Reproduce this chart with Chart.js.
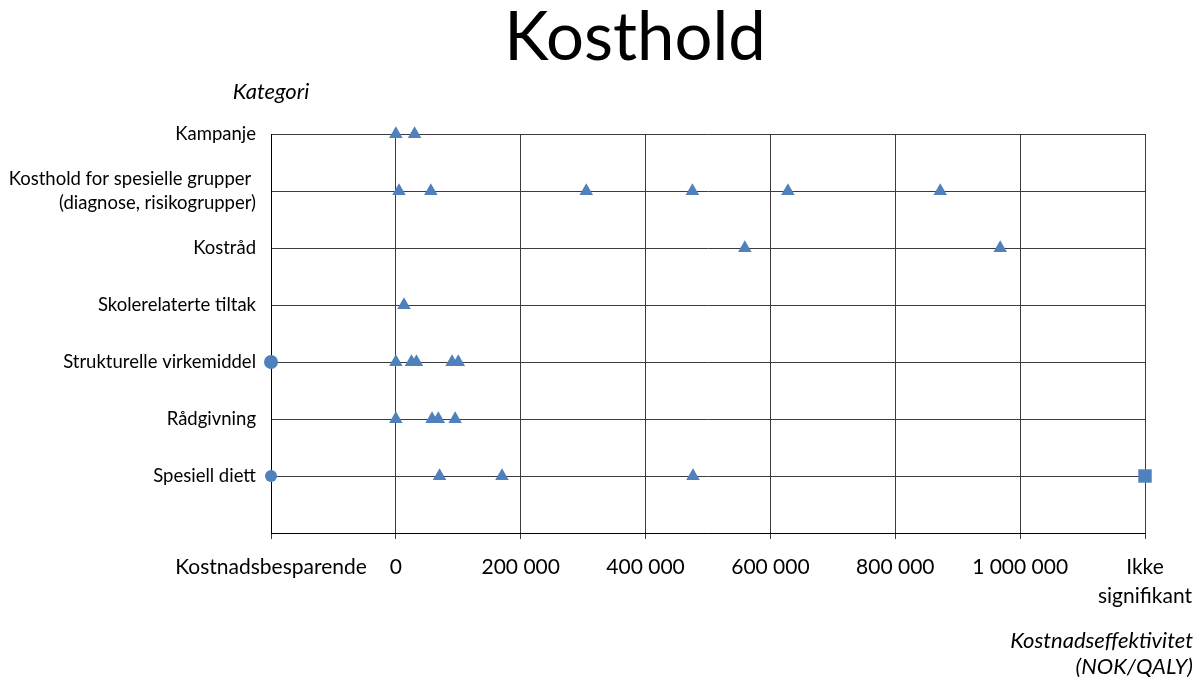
<!DOCTYPE html>
<html>
<head>
<meta charset="utf-8">
<script src="https://cdn.jsdelivr.net/npm/chart.js@4.4.1/dist/chart.umd.min.js"></script>
<style>
  html, body { margin: 0; padding: 0; background: #ffffff; }
  #wrap { width: 1201px; height: 679px; position: relative; }
</style>
</head>
<body>
<div id="wrap"><canvas id="c" width="1201" height="679"></canvas></div>
<script>
// Categories, bottom to top (y = 1 .. 7)
const categories = [
  'Spesiell diett',
  'Rådgivning',
  'Strukturelle virkemiddel',
  'Skolerelaterte tiltak',
  'Kostråd',
  ['Kosthold for spesielle grupper ', '(diagnose, risikogrupper)'],
  'Kampanje'
];

// Cost per QALY (NOK) for each study, per category
const spesiellDiett    = [70000, 170000, 476000];
const raadgivning      = [0, 58000, 68000, 95000];
const strukturelle     = [0, 25000, 33000, 90000, 100000];
const skolerelaterte   = [13000];
const kostraad         = [559000, 968000];
const spesielleGrupper = [5000, 56000, 305000, 475000, 628000, 872000];
const kampanje         = [0, 30000];

// Cost-saving studies and non-significant results, by category name
const kostnadsbesparende = ['Strukturelle virkemiddel', 'Spesiell diett'];
const ikkeSignifikant    = ['Spesiell diett'];

// X axis: special end positions plus regular ticks
const COST_SAVING_X = -200000;
const NOT_SIGNIFICANT_X = 1200000;
const xTickStep = 200000;
const xEndLabels = {
  cost: 'Kostnadsbesparende',
  ns: ['Ikke', 'signifikant']
};

const valuesByCategory = [spesiellDiett, raadgivning, strukturelle, skolerelaterte, kostraad, spesielleGrupper, kampanje];

function catIndex(name) {
  return categories.findIndex(c => (Array.isArray(c) ? c.join('') : c) === name) + 1;
}

const studyPoints = [];
valuesByCategory.forEach((vals, i) => {
  vals.forEach(v => studyPoints.push({ x: v, y: i + 1 }));
});
const costSavingPoints = kostnadsbesparende.map(n => ({ x: COST_SAVING_X, y: catIndex(n) }));
const notSignificantPoints = ikkeSignifikant.map(n => ({ x: NOT_SIGNIFICANT_X, y: catIndex(n) }));

const BLUE = '#4f81bd';
const GRID = '#3c3c3c';
const FONT = 'Lato, "Open Sans", sans-serif';

function fmt(v) {
  return String(v).replace(/\B(?=(\d{3})+(?!\d))/g, ' ');
}

// Title and axis captions
const captions = {
  id: 'captions',
  afterDraw(chart) {
    const ctx = chart.ctx;
    const a = chart.chartArea;
    ctx.save();
    ctx.fillStyle = '#000000';
    ctx.textBaseline = 'middle';

    ctx.font = '67px ' + FONT;
    ctx.textAlign = 'center';
    ctx.fillText('Kosthold', 635, 38);

    ctx.font = 'italic 22px ' + FONT;
    ctx.textAlign = 'center';
    ctx.fillText('Kategori', a.left, 92);

    ctx.textAlign = 'right';
    ctx.fillText('Kostnadseffektivitet', 1193, 641);
    ctx.fillText('(NOK/QALY)', 1193, 667);
    ctx.restore();
  }
};

new Chart(document.getElementById('c'), {
  type: 'scatter',
  data: {
    datasets: [
      {
        label: 'Studier',
        data: studyPoints,
        pointStyle: 'triangle',
        pointRadius: 7.8,
        backgroundColor: BLUE,
        borderColor: BLUE,
        borderWidth: 0,
        clip: false
      },
      {
        label: 'Kostnadsbesparende',
        data: costSavingPoints,
        pointStyle: 'circle',
        pointRadius: [7, 6],
        backgroundColor: BLUE,
        borderColor: BLUE,
        borderWidth: 0,
        clip: false
      },
      {
        label: 'Ikke signifikant',
        data: notSignificantPoints,
        pointStyle: 'rect',
        pointRadius: 9.5,
        backgroundColor: BLUE,
        borderColor: BLUE,
        borderWidth: 0,
        clip: false
      }
    ]
  },
  options: {
    responsive: false,
    devicePixelRatio: 1,
    animation: false,
    events: [],
    layout: { padding: { top: 134, right: 56, left: 0, bottom: 0 } },
    plugins: {
      legend: { display: false },
      tooltip: { enabled: false },
      title: { display: false }
    },
    scales: {
      x: {
        type: 'linear',
        min: COST_SAVING_X,
        max: NOT_SIGNIFICANT_X,
        afterFit(s) {
          s.height = 146;
          s.paddingLeft = 0;
          s.paddingRight = 0;
        },
        afterBuildTicks(s) {
          const t = [];
          for (let v = COST_SAVING_X; v <= NOT_SIGNIFICANT_X; v += xTickStep) t.push({ value: v });
          s.ticks = t;
        },
        ticks: {
          autoSkip: false,
          maxRotation: 0,
          padding: 14,
          color: '#000000',
          font: { family: FONT, size: 21, lineHeight: 1.38 },
          callback(v) {
            if (v === COST_SAVING_X) return xEndLabels.cost;
            if (v === NOT_SIGNIFICANT_X) return xEndLabels.ns;
            return fmt(v);
          }
        },
        grid: {
          color: GRID,
          lineWidth: 1,
          drawTicks: true,
          tickLength: 6,
          tickColor: GRID
        },
        border: { display: true, color: '#000000', width: 1 }
      },
      y: {
        type: 'linear',
        min: 0,
        max: 7,
        afterFit(s) {
          s.width = 271;
          s.paddingTop = 0;
          s.paddingBottom = 0;
        },
        afterBuildTicks(s) {
          const t = [];
          for (let v = 0; v <= categories.length; v++) t.push({ value: v });
          s.ticks = t;
        },
        ticks: {
          autoSkip: false,
          padding: 15,
          color: '#000000',
          font: { family: FONT, size: 18.5, lineHeight: 1.25 },
          callback(v) { return v >= 1 ? categories[v - 1] : ''; }
        },
        grid: {
          color: GRID,
          lineWidth: 1,
          drawTicks: false
        },
        border: { display: true, color: '#000000', width: 1 }
      }
    }
  },
  plugins: [captions]
});
</script>
</body>
</html>
